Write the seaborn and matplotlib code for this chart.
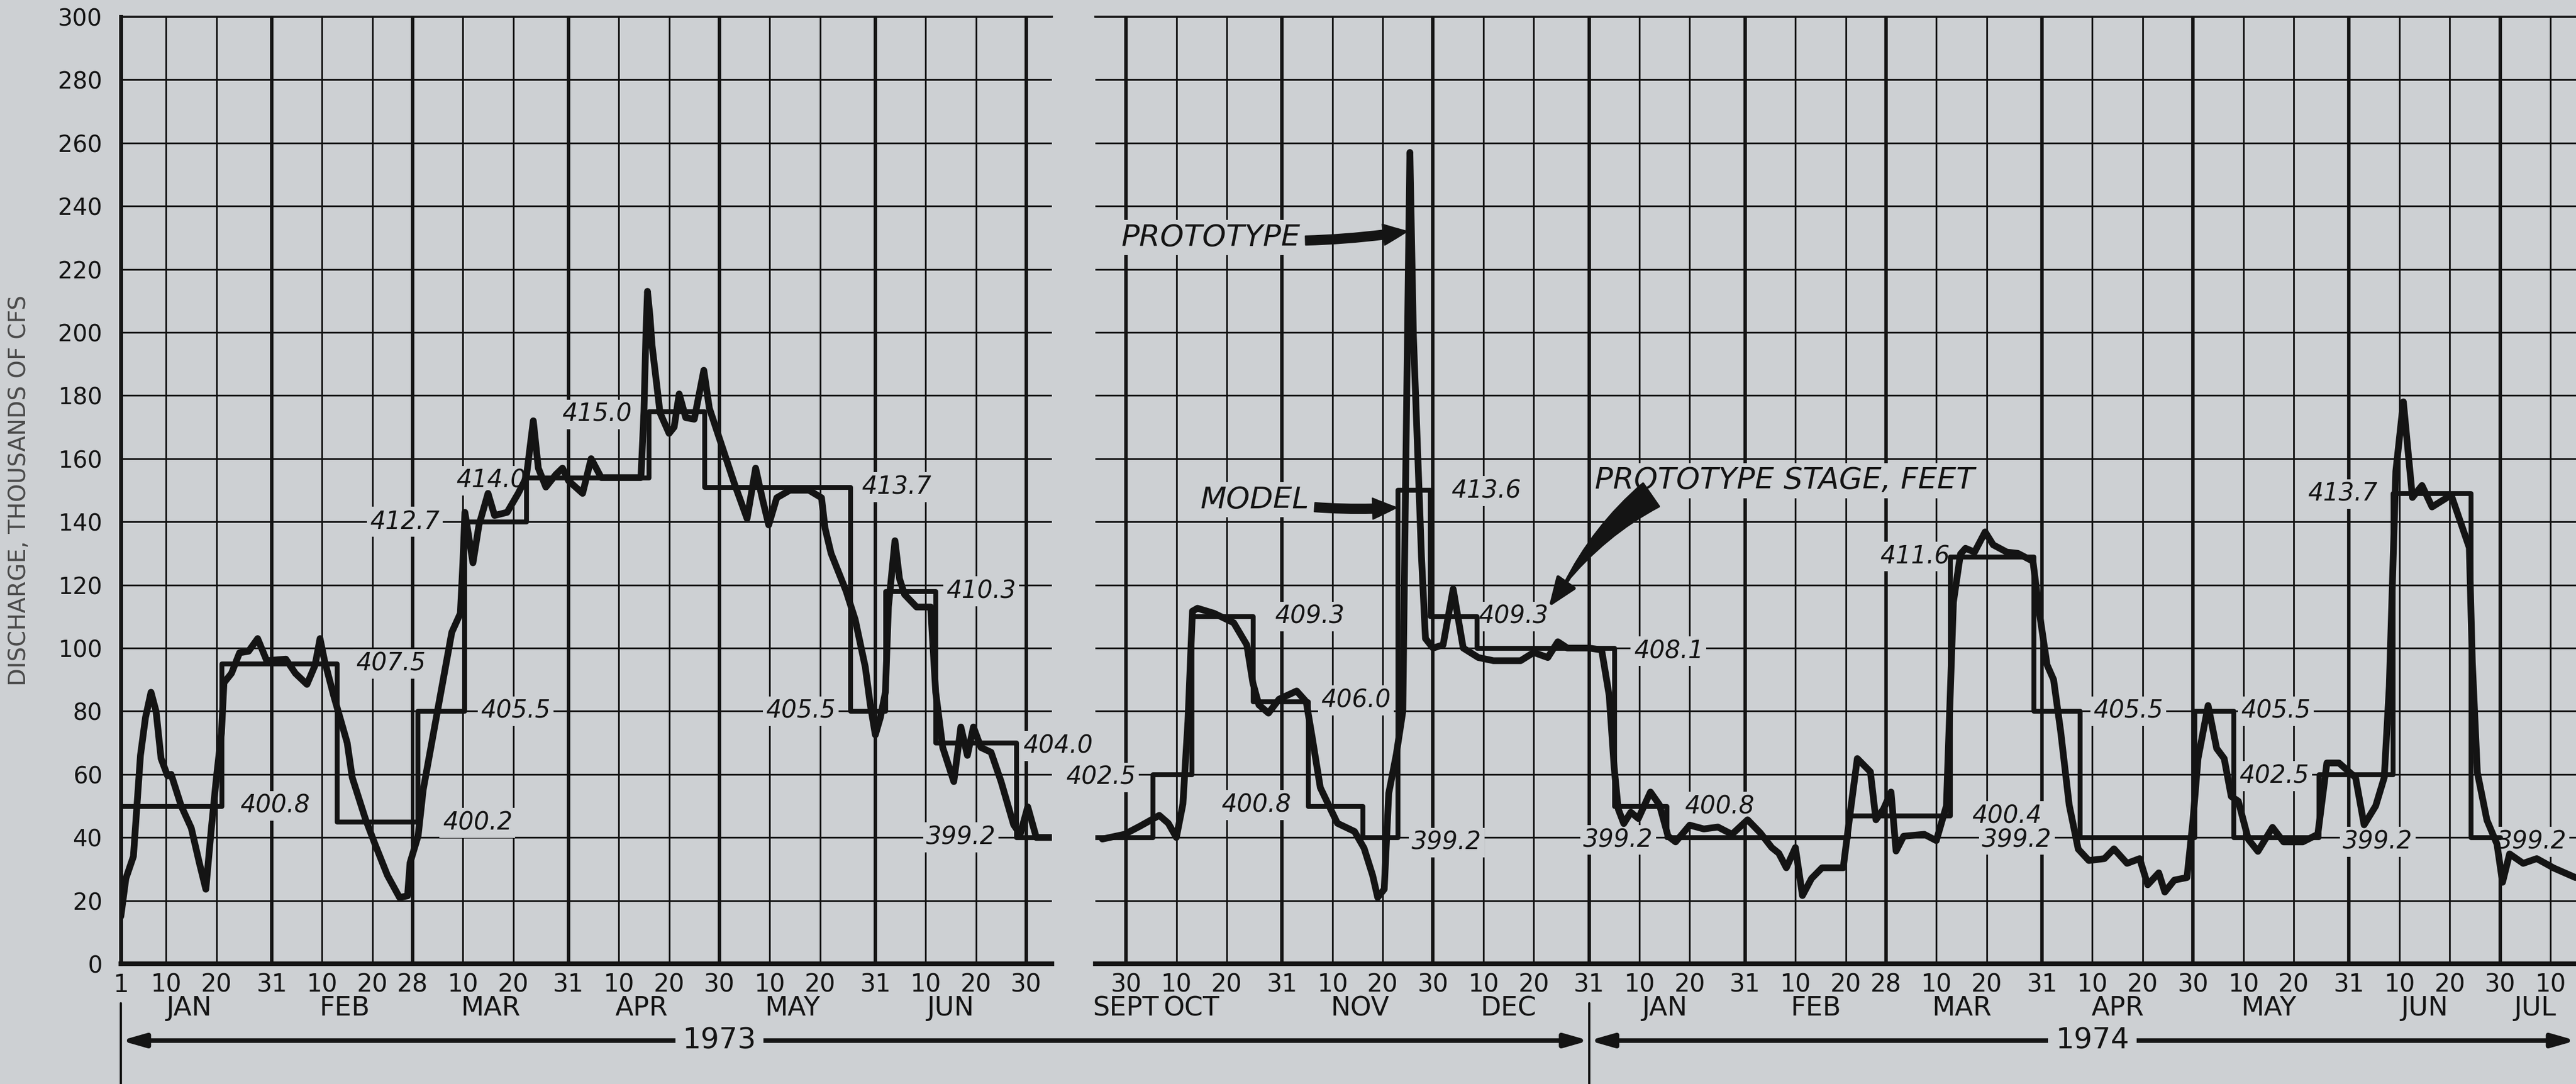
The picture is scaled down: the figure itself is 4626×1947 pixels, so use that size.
import matplotlib
matplotlib.use("Agg")
import matplotlib.pyplot as plt
import pandas as pd
import seaborn as sns

BG = "#cdd0d3"
INK = "#141414"

# ---------------- Jan - Jun 1973 panel ----------------
proto_1973_dates = [
    "01-01.0", "01-02.0", "01-03.5", "01-04.9", "01-05.9", "01-07.0", "01-08.0", "01-09.0",
    "01-10.3", "01-11.0", "01-13.0", "01-15.0", "01-16.6", "01-17.9", "01-19.0", "01-20.0",
    "01-21.0", "01-21.5", "01-23.0", "01-24.6", "01-26.4", "01-28.2", "01-30.0", "02-02.8",
    "02-04.7", "02-07.0", "02-08.6", "02-09.6", "02-10.5", "02-12.3", "02-15.0", "02-16.0",
    "02-18.6", "02-20.5", "02-23.0", "02-25.4", "02-27.0", "02-27.5", "03-01.1", "03-02.1",
    "03-05.4", "03-07.8", "03-09.5", "03-10.0", "03-10.4", "03-12.0", "03-13.2", "03-15.0",
    "03-16.3", "03-18.8", "03-21.0", "03-22.6", "03-24.0", "03-25.0", "03-26.5", "03-28.5",
    "03-29.8", "03-31.0", "04-02.8", "04-04.5", "04-06.5", "04-10.0", "04-14.4", "04-15.0",
    "04-15.4", "04-15.7", "04-16.2", "04-16.6", "04-18.2", "04-20.0", "04-21.0", "04-22.0",
    "04-23.3", "04-25.0", "04-26.9", "04-28.0", "04-30.5", "05-03.0", "05-05.5", "05-07.2",
    "05-08.5", "05-09.8", "05-11.4", "05-14.0", "05-17.8", "05-20.3", "05-21.0", "05-22.2",
    "05-25.2", "05-27.0", "05-29.0", "05-30.0", "05-31.0", "06-01.0", "06-02.0", "06-02.6",
    "06-03.9", "06-04.8", "06-05.8", "06-08.2", "06-11.0", "06-12.0", "06-13.4", "06-15.6",
    "06-17.0", "06-18.3", "06-19.5", "06-21.0", "06-23.0", "06-25.0", "06-27.5", "06-28.8",
    "06-30.3", "07-02.0", "07-05.0",
]
proto_1973_cfs = [
    15, 27, 34, 66, 78, 86, 80, 65,
    59.5, 60, 50, 43, 32, 23.6, 43, 59,
    73, 89, 92, 98.5, 99, 103, 96, 96.5,
    92, 88.5, 94.5, 103, 96, 85, 70, 59,
    46, 38, 28, 21, 21.5, 32, 40.5, 55,
    84, 105, 111, 127, 143, 127, 139, 149,
    142, 143, 149, 154, 172, 157, 151, 155,
    157, 153, 149, 160, 154, 154, 154, 175,
    200, 213, 205, 196, 174.5, 168, 170, 180.5,
    173, 172.5, 188, 176, 164, 152, 141, 157,
    147.6, 139, 147.6, 150, 150, 147.6, 138, 130,
    118, 109, 94, 82, 72.5, 78, 86, 113,
    134, 122, 117, 113, 113, 86, 68.5, 57.7,
    75, 66, 75, 68.5, 67, 57.7, 44, 41,
    49.7, 40, 40,
]
model_1973_dates = ["01-01", "01-21", "02-13", "03-01", "03-10.3", "03-22.6", "04-16",
                    "04-27", "05-26", "06-02", "06-12", "06-28", "07-05"]
model_1973_cfs = [50, 95, 45, 80, 140, 154, 175, 151, 80, 118, 70, 40, 40]

stage_1973_text = ["400.8", "407.5", "412.7", "414.0", "415.0", "405.5", "400.2",
                   "405.5", "413.7", "410.3", "399.2", "404.0"]
stage_1973_dates = ["01-31.6", "02-23.7", "02-26.5", "03-15.6", "04-05.6", "03-20.5",
                    "03-12.9", "05-16.2", "06-04.2", "06-21.0", "06-17.0", "07-06.3"]
stage_1973_cfs = [50, 95, 140, 153, 174, 80, 44.6, 80, 151, 118, 40, 69]

ticks_1973 = ["01-01", "01-10", "01-20", "01-31", "02-10", "02-20", "02-28", "03-10",
              "03-20", "03-31", "04-10", "04-20", "04-30", "05-10", "05-20", "05-31",
              "06-10", "06-20", "06-30"]
months_1973 = ["JAN", "FEB", "MAR", "APR", "MAY", "JUN"]
months_1973_at = ["01-14.5", "02-14.5", "03-15.5", "04-14.5", "05-14.5", "06-15"]

# ---------------- Sept 1973 - Jul 1974 panel ----------------
proto_7374_dates = [
    "1973-09-25.3", "1973-09-29.7", "1973-10-02.8", "1973-10-06.6", "1973-10-08.4",
    "1973-10-10.0", "1973-10-11.3", "1973-10-12.3", "1973-10-13.2", "1973-10-14.2",
    "1973-10-17.5", "1973-10-21.4", "1973-10-24.0", "1973-10-25.2", "1973-10-26.4",
    "1973-10-28.3", "1973-10-30.4", "1973-11-02.9", "1973-11-04.8", "1973-11-06.0",
    "1973-11-07.6", "1973-11-11.0", "1973-11-14.4", "1973-11-16.3", "1973-11-18.0",
    "1973-11-19.0", "1973-11-20.3", "1973-11-21.2", "1973-11-22.7", "1973-11-24.0",
    "1973-11-24.5", "1973-11-25.4", "1973-11-26.1", "1973-11-27.7", "1973-11-28.5",
    "1973-11-30.0", "1973-12-02.0", "1973-12-04.0", "1973-12-06.0", "1973-12-09.0",
    "1973-12-12.0", "1973-12-17.4", "1973-12-20.0", "1973-12-22.8", "1973-12-24.8",
    "1973-12-26.7", "1973-12-31.0", "1974-01-02.5", "1974-01-04.0", "1974-01-05.0",
    "1974-01-05.8", "1974-01-06.9", "1974-01-08.3", "1974-01-09.8", "1974-01-12.2",
    "1974-01-14.0", "1974-01-15.7", "1974-01-17.2", "1974-01-20.0", "1974-01-22.8",
    "1974-01-25.6", "1974-01-28.4", "1974-01-31.5", "1974-02-03.0", "1974-02-05.3",
    "1974-02-06.7", "1974-02-08.2", "1974-02-10.0", "1974-02-11.4", "1974-02-13.2",
    "1974-02-15.3", "1974-02-19.5", "1974-02-20.9", "1974-02-22.3", "1974-02-24.9",
    "1974-02-26.0", "1974-02-27.5", "1974-03-01.0", "1974-03-02.0", "1974-03-03.5",
    "1974-03-07.6", "1974-03-10.0", "1974-03-12.0", "1974-03-13.4", "1974-03-14.8",
    "1974-03-15.8", "1974-03-17.6", "1974-03-19.7", "1974-03-21.3", "1974-03-24.0",
    "1974-03-26.2", "1974-03-29.2", "1974-03-30.5", "1974-04-01.0", "1974-04-02.3",
    "1974-04-03.7", "1974-04-05.4", "1974-04-07.2", "1974-04-09.3", "1974-04-12.4",
    "1974-04-14.3", "1974-04-16.9", "1974-04-19.4", "1974-04-21.0", "1974-04-23.2",
    "1974-04-24.4", "1974-04-26.3", "1974-04-28.8", "1974-04-30.0", "1974-05-01.0",
    "1974-05-03.0", "1974-05-04.7", "1974-05-06.2", "1974-05-07.6", "1974-05-09.0",
    "1974-05-11.0", "1974-05-12.9", "1974-05-15.8", "1974-05-18.0", "1974-05-21.8",
    "1974-05-24.8", "1974-05-26.6", "1974-05-29.0", "1974-06-01.3", "1974-06-03.0",
    "1974-06-05.3", "1974-06-07.0", "1974-06-08.0", "1974-06-09.3", "1974-06-10.8",
    "1974-06-12.6", "1974-06-14.5", "1974-06-16.5", "1974-06-20.3", "1974-06-23.9",
    "1974-06-24.5", "1974-06-25.5", "1974-06-27.4", "1974-06-29.4", "1974-06-30.5",
    "1974-07-01.9", "1974-07-04.6", "1974-07-07.3", "1974-07-10.7", "1974-07-15.0",
]
proto_7374_cfs = [
    39.5, 41, 43.6, 47, 44.5,
    40, 50.6, 76.8, 111.7, 112.6,
    111, 108, 101, 89, 82,
    79.4, 83.8, 86.4, 83, 71.6,
    55.8, 44.5, 41.9, 36.6, 28,
    21, 23.6, 54, 66.3, 80,
    146.6, 257, 199, 129, 103,
    100, 101, 118.7, 100, 97,
    96, 96, 98.6, 97, 102,
    100, 100, 99.4, 85, 62,
    49, 44.4, 48, 46, 54.4,
    50.3, 40.4, 38.6, 43.9, 42.7,
    43.3, 41, 45.6, 41.5, 36.8,
    35, 30.4, 36.8, 21.6, 27,
    30.4, 30.4, 48, 65, 60.8,
    45.6, 49, 54.4, 35.7, 40.4,
    41, 39, 50, 114.6, 129.8,
    131.6, 130.4, 136.8, 132.7, 130.4,
    130, 127.5, 111, 94.7, 90,
    73.7, 50.3, 36.3, 32.7, 33.3,
    36.4, 31.8, 33.3, 25, 28.8,
    22.7, 26.5, 27.3, 45.5, 65,
    81.8, 68.2, 65, 53, 51.5,
    39.4, 35.6, 43.2, 38.6, 38.6,
    41, 63.6, 63.6, 59, 44,
    50, 59, 87.9, 156, 178,
    147.7, 151.5, 144.7, 148.5, 131.8,
    95.5, 60.6, 45.5, 37.9, 25.8,
    34.8, 31.8, 33.3, 30.3, 27.3,
]
model_7374_dates = ["1973-09-23.9", "1973-10-05.3", "1973-10-13.0", "1973-10-25.2",
                    "1973-11-05.2", "1973-11-16.0", "1973-11-23.0", "1973-11-29.4",
                    "1973-12-08.7", "1974-01-05.0", "1974-01-15.4", "1974-02-20.5",
                    "1974-03-12.7", "1974-03-29.3", "1974-04-07.5", "1974-04-30.3",
                    "1974-05-08.0", "1974-05-25.0", "1974-06-08.7", "1974-06-24.2",
                    "1974-06-30.0"]
model_7374_cfs = [40, 60, 110, 83, 50, 40, 150, 110, 100, 50, 40, 47, 129, 80, 40,
                  80, 40, 60, 149, 40, 40]

stage_7374_text = ["402.5", "409.3", "406.0", "400.8", "399.2", "413.6", "409.3",
                   "408.1", "399.2", "400.8", "411.6", "400.4", "399.2", "405.5",
                   "405.5", "402.5", "413.7", "399.2", "399.2"]
stage_7374_dates = ["1973-09-25.0", "1973-11-05.5", "1973-11-14.7", "1973-10-25.9",
                    "1973-12-02.7", "1973-12-10.6", "1973-12-16.0", "1974-01-15.8",
                    "1974-01-05.8", "1974-01-25.9", "1974-03-05.7", "1974-03-24.0",
                    "1974-03-26.0", "1974-04-17.1", "1974-05-16.5", "1974-05-16.1",
                    "1974-05-29.7", "1974-06-05.7", "1974-07-06.3"]
stage_7374_cfs = [59, 110, 83.4, 50.3, 38.4, 149.7, 110, 99, 39.2, 49.7, 129, 46.8,
                  39.2, 80, 80, 59.4, 148.8, 38.6, 38.6]

ticks_7374 = ["1973-09-30", "1973-10-10", "1973-10-20", "1973-10-31", "1973-11-10",
              "1973-11-20", "1973-11-30", "1973-12-10", "1973-12-20", "1973-12-31",
              "1974-01-10", "1974-01-20", "1974-01-31", "1974-02-10", "1974-02-20",
              "1974-02-28", "1974-03-10", "1974-03-20", "1974-03-31", "1974-04-10",
              "1974-04-20", "1974-04-30", "1974-05-10", "1974-05-20", "1974-05-31",
              "1974-06-10", "1974-06-20", "1974-06-30", "1974-07-10"]
months_7374 = ["SEPT", "OCT", "NOV", "DEC", "JAN", "FEB", "MAR", "APR", "MAY", "JUN", "JUL"]
months_7374_at = ["1973-09-30", "1973-10-13", "1973-11-15.5", "1973-12-15", "1974-01-15",
                  "1974-02-14", "1974-03-15", "1974-04-15", "1974-05-15", "1974-06-15",
                  "1974-07-07"]

y_ticks = list(range(0, 301, 20))

ORIGIN = pd.Timestamp("1973-01-01")


def day(stamp):
    """'1973-02-13.5' -> days after 1 Jan 1973 (fractional days allowed)."""
    y, m, d = stamp.split("-")
    return (pd.Timestamp(int(y), int(m), 1) - ORIGIN).days + float(d) - 1


def is_month_end(stamp):
    y, m, d = stamp.split("-")
    return pd.Timestamp(int(y), int(m), int(float(d))).is_month_end


def draw_panel(ax, proto_x, proto_y, model_x, model_y, tick_stamps, xlim):
    ax.set_facecolor(BG)
    ax.set_axisbelow(True)
    sns.lineplot(x=model_x, y=model_y, ax=ax, color=INK, lw=2.1, drawstyle="steps-post",
                 estimator=None, sort=False, zorder=4)
    sns.lineplot(x=proto_x, y=proto_y, ax=ax, color=INK, lw=2.9, estimator=None,
                 sort=False, zorder=5, solid_joinstyle="round", solid_capstyle="round")

    ax.set_xlim(*xlim)
    ax.set_ylim(0, 300)
    ax.set_yticks(y_ticks)
    ax.set_xticks([day(s) for s in tick_stamps],
                  labels=[str(int(s.split("-")[-1])) for s in tick_stamps])
    ax.grid(True, color=INK, lw=0.75)
    for s in tick_stamps:
        if is_month_end(s):
            ax.axvline(day(s), color=INK, lw=1.5, zorder=1.5)
    ax.tick_params(axis="x", length=0, pad=4, labelsize=10.5, colors=INK)
    ax.tick_params(axis="y", length=0, pad=8, labelsize=10, colors=INK)
    ax.set_xlabel("")
    ax.set_ylabel("")
    for side in ("left", "right", "top", "bottom"):
        ax.spines[side].set_color(INK)
    ax.spines["right"].set_visible(False)
    ax.spines["top"].set_linewidth(0.9)
    ax.spines["bottom"].set_linewidth(2.0)


def stage_labels(ax, texts, stamps, values):
    for t, s, v in zip(texts, stamps, values):
        ax.text(day(s), v, t, ha="center", va="center", fontsize=10.5, fontstyle="italic",
                color=INK, zorder=3, clip_on=False,
                bbox=dict(boxstyle="square,pad=0.12", fc=BG, ec="none"))


def month_labels(ax, names, stamps):
    for name, s in zip(names, stamps):
        ax.text(day(s), -0.047, name, transform=ax.get_xaxis_transform(), ha="center",
                va="center", fontsize=11.5, color=INK)


sns.set_theme(style="white")
plt.rcParams["font.family"] = ["DejaVu Sans"]

fig = plt.figure(figsize=(4626 / 300, 1947 / 300), dpi=300)
fig.patch.set_facecolor(BG)
bottom, height = 216 / 1947, 1701 / 1947
ax_l = fig.add_axes([217 / 4626, bottom, (1889 - 217) / 4626, height])
ax_r = fig.add_axes([1967 / 4626, bottom, (4626 - 1967) / 4626, height])

draw_panel(ax_l,
           [day("1973-" + s) for s in proto_1973_dates], proto_1973_cfs,
           [day("1973-" + s) for s in model_1973_dates], model_1973_cfs,
           ["1973-" + s for s in ticks_1973],
           (day("1973-01-01"), day("1973-07-05.1")))
draw_panel(ax_r,
           [day(s) for s in proto_7374_dates], proto_7374_cfs,
           [day(s) for s in model_7374_dates], model_7374_cfs,
           ticks_7374,
           (day("1973-09-23.9"), day("1974-07-15.1")))

ax_l.spines["left"].set_linewidth(1.7)
ax_r.spines["left"].set_visible(False)
ax_r.tick_params(axis="y", labelleft=False)

ax_l.set_ylabel("DISCHARGE, THOUSANDS OF CFS", fontsize=10, color="#4a4a4a")
ax_l.yaxis.set_label_coords(-0.097, 0.5)

stage_labels(ax_l, stage_1973_text, ["1973-" + s for s in stage_1973_dates], stage_1973_cfs)
stage_labels(ax_r, stage_7374_text, stage_7374_dates, stage_7374_cfs)
month_labels(ax_l, months_1973, ["1973-" + s for s in months_1973_at])
month_labels(ax_r, months_7374, months_7374_at)

# callouts
callout_arrow = dict(arrowstyle="simple,head_length=0.8,head_width=0.7,tail_width=0.3",
                     fc=INK, ec=INK, lw=0.5, shrinkA=1, shrinkB=0,
                     connectionstyle="arc3,rad=0.06")
ax_r.annotate("PROTOTYPE", xy=(day("1973-11-24.9"), 232), xytext=(day("1973-09-29"), 230),
              fontsize=13, fontstyle="italic", color=INK, ha="left", va="center", zorder=6,
              bbox=dict(boxstyle="square,pad=0.1", fc=BG, ec="none"), arrowprops=callout_arrow)
ax_r.annotate("MODEL", xy=(day("1973-11-22.8"), 144.5), xytext=(day("1973-10-14.8"), 147),
              fontsize=13, fontstyle="italic", color=INK, ha="left", va="center", zorder=6,
              bbox=dict(boxstyle="square,pad=0.1", fc=BG, ec="none"), arrowprops=callout_arrow)
ax_r.text(day("1974-01-01.1"), 153, "PROTOTYPE STAGE, FEET", fontsize=13, fontstyle="italic",
          color=INK, ha="left", va="center", zorder=6,
          bbox=dict(boxstyle="square,pad=0.1", fc=BG, ec="none"))
ax_r.annotate("", xy=(day("1973-12-26.0"), 120), xytext=(day("1974-01-12.3"), 148.5),
              arrowprops=dict(arrowstyle="wedge,tail_width=1.0,shrink_factor=0.5",
                              fc=INK, ec=INK, shrinkA=0, shrinkB=0,
                              connectionstyle="arc3,rad=0.1"), zorder=6)
ax_r.annotate("", xy=(day("1973-12-23.0"), 113), xytext=(day("1973-12-27.0"), 122),
              arrowprops=dict(arrowstyle="-|>,head_length=0.9,head_width=0.35",
                              fc=INK, ec=INK, lw=1.5, shrinkA=0, shrinkB=0), zorder=6)

# year spans below the axes
y_arrow = 1 - 1869 / 1947
arrow_kw = dict(arrowstyle="<|-|>,head_length=0.7,head_width=0.2", color=INK, lw=2.0,
                shrinkA=0, shrinkB=0)
ax_l.annotate("", xy=(day("1973-12-31"), y_arrow), xycoords=(ax_r.transData, fig.transFigure),
              xytext=(day("1973-01-01"), y_arrow), textcoords=(ax_l.transData, fig.transFigure),
              arrowprops=arrow_kw, annotation_clip=False)
ax_r.annotate("", xy=(day("1974-07-15.1"), y_arrow), xycoords=(ax_r.transData, fig.transFigure),
              xytext=(day("1973-12-31"), y_arrow), textcoords=(ax_r.transData, fig.transFigure),
              arrowprops=arrow_kw, annotation_clip=False)
for ax, label, at in ((ax_l, "1973", "1973-04-30"), (ax_r, "1974", "1974-04-10")):
    ax.annotate(label, xy=(day(at), y_arrow), xycoords=(ax.transData, fig.transFigure),
                ha="center", va="center", fontsize=12.5, color=INK, annotation_clip=False,
                bbox=dict(boxstyle="square,pad=0.25", fc=BG, ec="none"), zorder=6)
y0 = (0 - bottom) / height
y1 = ((1 - 1802 / 1947) - bottom) / height
ax_l.axvline(day("1973-01-01"), ymin=y0, ymax=y1, color=INK, lw=1.0, clip_on=False)
ax_r.axvline(day("1973-12-31"), ymin=y0, ymax=y1, color=INK, lw=1.0, clip_on=False)

fig.savefig("out.png", dpi=300, facecolor=BG)
